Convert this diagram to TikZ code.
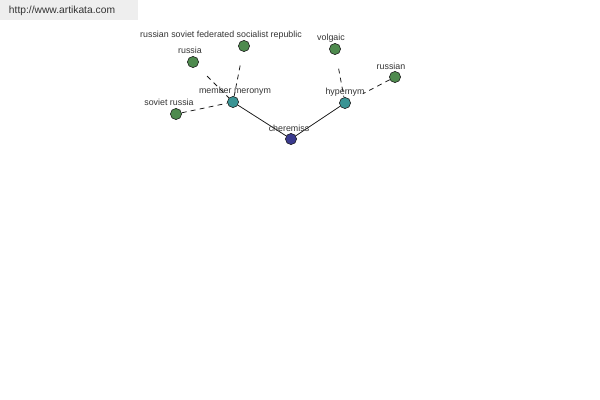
\documentclass[tikz,border=0pt]{standalone}
\usepackage{fontspec}
\setmainfont{Liberation Sans}
\usetikzlibrary{positioning}
\definecolor{termGreen}{HTML}{4E8A4E}
\definecolor{termTeal}{HTML}{3A9494}
\definecolor{termNavy}{HTML}{3A3A8E}
\definecolor{edgeDark}{HTML}{1A1A1A}
\definecolor{bannerGray}{HTML}{EEEEEE}
\definecolor{textDark}{HTML}{333333}

\begin{document}
\begin{tikzpicture}[x=0.025cm, y=-0.025cm,
        term/.style={circle, draw=edgeDark, line width=0.4pt,
          minimum size=0.28cm, inner sep=0pt},
        leaf/.style={term, fill=termGreen},
        relation/.style={term, fill=termTeal},
        root/.style={term, fill=termNavy},
        tag/.style={font=\fontsize{6.3}{7}\selectfont, text=textDark,
          inner sep=0pt},
        link/.style={draw=edgeDark, line width=0.55pt},
        sublink/.style={link, dash pattern=on 3.5pt off 3pt}
      ]
        \useasboundingbox (0,0) rectangle (600,400);
        \fill[bannerGray] (0,0) rectangle (138,20);
        \node[tag, text=black!80, font=\fontsize{7.3}{8}\selectfont] (site) at (62,11) {http://www.artikata.com};

        \node[root]     (cheremiss) at (291,139) {};
        \node[relation] (meronym)   at (233,102) {};
        \node[relation] (hypernym)  at (345,103) {};
        \node[leaf]     (russia)    at (193,62)  {};
        \node[leaf]     (rsfsr)     at (244,46)  {};
        \node[leaf]     (sovrussia) at (176,114) {};
        \node[leaf]     (volgaic)   at (335,49)  {};
        \node[leaf]     (russian)   at (395,77)  {};

        \draw[link] (cheremiss) -- (meronym);
        \draw[link] (cheremiss) -- (hypernym);
        \draw[sublink, shorten <=10pt] (russia) -- (meronym);
        \draw[sublink, shorten <=10pt] (rsfsr) -- (meronym);
        \draw[sublink] (sovrussia) -- (meronym);
        \draw[sublink, shorten <=10pt] (volgaic) -- (hypernym);
        \draw[sublink, shorten >=10pt] (russian) -- (hypernym);

        \node[tag] (cheremissTag) at (289,128) {cheremiss};
        \node[tag] (meronymTag)   at (235,91)  {member meronym};
        \node[tag] (hypernymTag)  at (345,92)  {hypernym};
        \node[tag] (russiaTag)    at (190,50)  {russia};
        \node[tag] (rsfsrTag)     at (221,35)  {russian soviet federated socialist republic};
        \node[tag] (sovrussiaTag) at (169,102) {soviet russia};
        \node[tag] (volgaicTag)   at (331,38)  {volgaic};
        \node[tag] (russianTag)   at (391,66)  {russian};
      \end{tikzpicture}
\end{document}
